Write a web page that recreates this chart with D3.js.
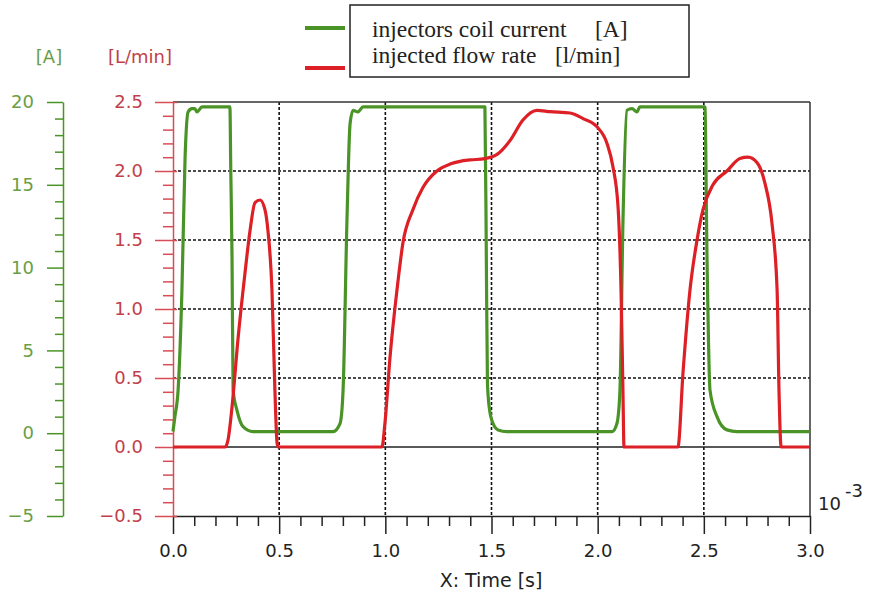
<!DOCTYPE html>
<html>
<head>
<meta charset="utf-8">
<script src="https://cdn.jsdelivr.net/npm/d3@7"></script>
<style>
  body { margin: 0; background: #fff; }
  svg { display: block; }
</style>
</head>
<body>
<div id="chart"></div>
<script>
// time values are in units of 10^-3 s
const currentTime = [0, 0.009, 0.024, 0.042, 0.057, 0.071, 0.089, 0.103, 0.113, 0.137, 0.268, 0.272, 0.278, 0.283, 0.301, 0.33, 0.377,
  0.754, 0.787, 0.801, 0.819, 0.834, 0.848, 0.871, 0.895, 1.469, 1.476, 1.481, 1.49, 1.507, 1.531, 1.573,
  2.068, 2.091, 2.105, 2.119, 2.138, 2.162, 2.185, 2.199, 2.505, 2.515, 2.529, 2.562, 2.609, 2.656, 3.0];
const currentAmps = [0.1, 1.0, 2.6, 8.6, 16.7, 19.4, 19.6, 19.6, 19.4, 19.7, 19.7, 16, 10.6, 2.6, 1.4, 0.4, 0.1,
  0.1, 0.6, 2.6, 12.7, 18.7, 19.5, 19.4, 19.7, 19.7, 10, 3.0, 1.5, 0.6, 0.2, 0.1,
  0.1, 0.6, 2.6, 12.7, 19.5, 19.6, 19.4, 19.7, 19.7, 10.6, 2.6, 1.0, 0.2, 0.1, 0.1];

const flowTime = [0, 0.245, 0.259, 0.278, 0.306, 0.339, 0.363, 0.386, 0.41, 0.433, 0.447, 0.466, 0.48, 0.49, 0.495,
  0.984, 0.998, 1.022, 1.055, 1.083, 1.13, 1.177, 1.243, 1.305, 1.352, 1.399, 1.469, 1.526, 1.587, 1.648, 1.714,
  1.776, 1.87, 1.931, 1.997, 2.044, 2.072, 2.096, 2.11, 2.119, 2.124,
  2.378, 2.402, 2.435, 2.468, 2.496, 2.543, 2.609, 2.67, 2.708, 2.751, 2.788, 2.821, 2.845, 2.854, 2.864, 3.0];
const flowRate = [0, 0, 0.05, 0.29, 0.78, 1.26, 1.57, 1.77, 1.79, 1.72, 1.57, 1.14, 0.41, 0.03, 0,
  0, 0.17, 0.65, 1.14, 1.48, 1.72, 1.88, 2.0, 2.05, 2.07, 2.08, 2.09, 2.12, 2.22, 2.37, 2.44,
  2.43, 2.42, 2.38, 2.32, 2.2, 2.03, 1.74, 1.14, 0.41, 0,
  0, 0.54, 1.14, 1.5, 1.72, 1.9, 2.0, 2.09, 2.1, 2.06, 1.91, 1.62, 1.14, 0.41, 0, 0];

const xTicks = [0, 0.5, 1.0, 1.5, 2.0, 2.5, 3.0];
const flowTicks = [-0.5, 0.0, 0.5, 1.0, 1.5, 2.0, 2.5];
const ampTicks = [-5, 0, 5, 10, 15, 20];

const legendLabels = ['injectors coil current', 'injected flow rate'];
const legendUnits = ['[A]', '[l/min]'];

const GREEN = '#4a9427';
const RED = '#dd1f26';
const GREEN_TEXT = '#6a9e45';
const RED_TEXT = '#c2404a';
const RED_TICK = '#d64d55';

const width = 869, height = 598;
const svg = d3.select('#chart').append('svg')
  .attr('width', width)
  .attr('height', height);

// scales
const x = d3.scaleLinear().domain([0, 3]).range([173, 810]);
const yFlow = d3.scaleLinear().domain([-0.5, 2.5]).range([516, 102]);
const yAmp = d3.scaleLinear().domain([-5, 20]).range([516, 102]);

const minorX = d3.range(0, 3.001, 0.1).filter(v => Math.abs(v * 2 - Math.round(v * 2)) > 0.01);
const minorFlow = d3.range(-0.5, 2.501, 0.1).filter(v => Math.abs(v * 2 - Math.round(v * 2)) > 0.01);
const minorAmp = d3.range(-5, 20.01, 1).filter(v => v % 5 !== 0);

const tickFont = 'DejaVu Sans, Verdana, sans-serif';
const serifFont = 'Liberation Serif, Times New Roman, serif';

// dashed grid
const grid = svg.append('g');
grid.selectAll('.vgrid')
  .data(xTicks.slice(1, -1))
  .enter().append('line')
  .attr('x1', d => x(d)).attr('x2', d => x(d))
  .attr('y1', yFlow(2.5)).attr('y2', yFlow(-0.5))
  .attr('stroke', '#111').attr('stroke-width', 1.6)
  .attr('stroke-dasharray', '3,2');
grid.selectAll('.hgrid')
  .data([0.5, 1.0, 1.5, 2.0])
  .enter().append('line')
  .attr('x1', x(0)).attr('x2', x(3))
  .attr('y1', d => yFlow(d)).attr('y2', d => yFlow(d))
  .attr('stroke', '#111').attr('stroke-width', 1.6)
  .attr('stroke-dasharray', '3,2');

// solid zero line and frame
svg.append('line')
  .attr('x1', x(0)).attr('x2', x(3))
  .attr('y1', yFlow(0)).attr('y2', yFlow(0))
  .attr('stroke', '#222').attr('stroke-width', 1.5);
svg.append('line')
  .attr('x1', x(0)).attr('x2', x(3))
  .attr('y1', yFlow(2.5)).attr('y2', yFlow(2.5))
  .attr('stroke', '#333').attr('stroke-width', 1.5);
svg.append('line')
  .attr('x1', x(3)).attr('x2', x(3))
  .attr('y1', yFlow(2.5)).attr('y2', yFlow(-0.5))
  .attr('stroke', '#333').attr('stroke-width', 1.5);

// x axis
const xAxis = svg.append('g')
  .attr('transform', `translate(0,${yFlow(-0.5)})`)
  .call(d3.axisBottom(x).tickValues(xTicks).tickSize(18).tickSizeOuter(0).tickPadding(10)
    .tickFormat(d3.format('.1f')));
xAxis.select('.domain').attr('stroke', '#222').attr('stroke-width', 1.5);
xAxis.selectAll('.tick line').attr('stroke', '#222').attr('stroke-width', 1.5);
xAxis.selectAll('text').attr('fill', '#222').style('font-family', tickFont).style('font-size', '18px');

const xMinor = svg.append('g')
  .attr('transform', `translate(0,${yFlow(-0.5)})`)
  .call(d3.axisBottom(x).tickValues(minorX).tickSize(10).tickFormat(''));
xMinor.select('.domain').remove();
xMinor.selectAll('.tick line').attr('stroke', '#222').attr('stroke-width', 1.5);

// flow axis (red)
const flowAxis = svg.append('g')
  .attr('transform', `translate(${x(0)},0)`)
  .call(d3.axisLeft(yFlow).tickValues(flowTicks).tickSize(18).tickSizeOuter(0).tickPadding(12)
    .tickFormat(d3.format('.1f')));
flowAxis.select('.domain').attr('stroke', RED_TICK).attr('stroke-width', 1.5);
flowAxis.selectAll('.tick line').attr('stroke', RED_TICK).attr('stroke-width', 1.5).attr('x2', 4).attr('x1', -18);
flowAxis.selectAll('text').attr('fill', RED_TEXT).style('font-family', tickFont).style('font-size', '18px');

const flowMinor = svg.append('g')
  .attr('transform', `translate(${x(0)},0)`)
  .call(d3.axisLeft(yFlow).tickValues(minorFlow).tickSize(10).tickFormat(''));
flowMinor.select('.domain').remove();
flowMinor.selectAll('.tick line').attr('stroke', RED_TICK).attr('stroke-width', 1.5);

// current axis (green)
const ampAxis = svg.append('g')
  .attr('transform', 'translate(63,0)')
  .call(d3.axisLeft(yAmp).tickValues(ampTicks).tickSize(16).tickSizeOuter(0).tickPadding(13));
ampAxis.select('.domain').attr('stroke', GREEN).attr('stroke-width', 1.5);
ampAxis.selectAll('.tick line').attr('stroke', GREEN).attr('stroke-width', 1.5);
ampAxis.selectAll('text').attr('fill', GREEN_TEXT).style('font-family', tickFont).style('font-size', '18px');

const ampMinor = svg.append('g')
  .attr('transform', 'translate(63,0)')
  .call(d3.axisLeft(yAmp).tickValues(minorAmp).tickSize(8).tickFormat(''));
ampMinor.select('.domain').remove();
ampMinor.selectAll('.tick line').attr('stroke', GREEN).attr('stroke-width', 1.5);

// unit headers
svg.append('text').attr('x', 49).attr('y', 63).attr('text-anchor', 'middle')
  .attr('fill', GREEN_TEXT).style('font-family', tickFont).style('font-size', '18px').text('[A]');
svg.append('text').attr('x', 140).attr('y', 63).attr('text-anchor', 'middle')
  .attr('fill', RED_TEXT).style('font-family', tickFont).style('font-size', '18px').text('[L/min]');

// x label and exponent
svg.append('text').attr('x', 491).attr('y', 587).attr('text-anchor', 'middle')
  .attr('fill', '#222').style('font-family', tickFont).style('font-size', '19px').text('X: Time [s]');
svg.append('text').attr('x', 818).attr('y', 510)
  .attr('fill', '#222').style('font-family', tickFont).style('font-size', '18px').text('10');
svg.append('text').attr('x', 845).attr('y', 497)
  .attr('fill', '#222').style('font-family', tickFont).style('font-size', '18px').text('-3');

// curves
const currentData = currentTime.map((t, i) => ({ t, v: currentAmps[i] }));
const flowData = flowTime.map((t, i) => ({ t, v: flowRate[i] }));

const currentLine = d3.line()
  .x(d => x(d.t))
  .y(d => yAmp(d.v))
  .curve(d3.curveMonotoneX);
const flowLine = d3.line()
  .x(d => x(d.t))
  .y(d => yFlow(d.v))
  .curve(d3.curveMonotoneX);

svg.append('path').datum(currentData)
  .attr('d', currentLine)
  .attr('fill', 'none').attr('stroke', GREEN).attr('stroke-width', 3.2)
  .attr('stroke-linejoin', 'round');
svg.append('path').datum(flowData)
  .attr('d', flowLine)
  .attr('fill', 'none').attr('stroke', RED).attr('stroke-width', 3.2)
  .attr('stroke-linejoin', 'round');

// legend
const legend = svg.append('g');
legend.append('rect')
  .attr('x', 350).attr('y', 5).attr('width', 339).attr('height', 72)
  .attr('fill', '#fff').attr('stroke', '#222').attr('stroke-width', 1.5);
legend.selectAll('.swatch')
  .data([GREEN, RED])
  .enter().append('line')
  .attr('x1', 305).attr('x2', 345)
  .attr('y1', (d, i) => i === 0 ? 28 : 68).attr('y2', (d, i) => i === 0 ? 28 : 68)
  .attr('stroke', d => d).attr('stroke-width', 4);
legend.selectAll('.label')
  .data(legendLabels)
  .enter().append('text')
  .attr('x', 372).attr('y', (d, i) => i === 0 ? 37 : 63)
  .attr('fill', '#222').style('font-family', serifFont).style('font-size', '23.5px')
  .text(d => d);
legend.selectAll('.unit')
  .data(legendUnits)
  .enter().append('text')
  .attr('x', (d, i) => i === 0 ? 595 : 555).attr('y', (d, i) => i === 0 ? 37 : 63)
  .attr('fill', '#222').style('font-family', serifFont).style('font-size', '23.5px')
  .text(d => d);
</script>
</body>
</html>
